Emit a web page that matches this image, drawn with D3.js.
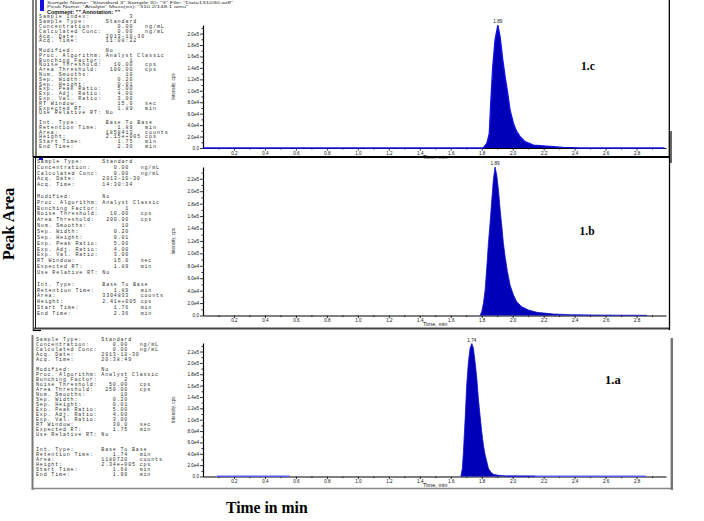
<!DOCTYPE html>
<html><head><meta charset="utf-8">
<script src="https://cdn.jsdelivr.net/npm/d3@7"></script>
<style>html,body{margin:0;padding:0;background:#fff;}svg{display:block}</style>
</head><body>
<svg id="chart" width="704" height="521"></svg>
<script>
// ---------------- DATA ----------------
const xTickLabels = [0.2,0.4,0.6,0.8,1.0,1.2,1.4,1.6,1.8,2.0,2.2,2.4,2.6,2.8];
const xMinorTicks = [0.1,0.3,0.5,0.7,0.9,1.1,1.3,1.5,1.7,1.9,2.1,2.3,2.5,2.7,2.9];
const yTicksC  = [0,2e4,4e4,6e4,8e4,1.0e5,1.2e5,1.4e5,1.6e5,1.8e5,2.0e5];
const yTicksAB = [0,2e4,4e4,6e4,8e4,1.0e5,1.2e5,1.4e5,1.6e5,1.8e5,2.0e5,2.2e5];

const panelNames = ["1.c","1.b","1.a"];
const peakLabels = ["1.89","1.89","1.74"];

// Panel 1.c chromatogram (time, min / intensity, cps)
const cTime = [0.00,1.809,1.833,1.849,1.859,1.871,1.886,1.904,1.919,1.936,1.951,1.968,1.983,2.005,2.026,2.048,2.080,2.134,2.261,2.326,2.436,2.98];
const cInt  = [0,0,8200,25700,84000,142000,189000,215000,194000,154000,125000,95500,66000,43000,28500,19700,11000,5200,2300,1000,0,0];
// Panel 1.b chromatogram
const bTime = [1.789,1.800,1.811,1.822,1.833,1.843,1.854,1.865,1.875,1.886,1.897,1.908,1.919,1.930,1.940,1.951,1.966,1.983,2.005,2.026,2.059,2.101,2.156,2.263,2.371,2.519,2.694,2.868];
const bInt  = [0,6100,19700,41000,79000,116000,149000,186000,218000,239000,226000,202000,170000,143000,116000,95000,71000,49000,33000,22000,14000,8900,5100,2400,1300,800,500,300];
// Panel 1.a chromatogram
const aTime = [1.665,1.675,1.682,1.693,1.703,1.714,1.725,1.736,1.746,1.757,1.768,1.778,1.789,1.800,1.811,1.822,1.833,1.843,1.859,1.875,1.908,1.962,2.145];
const aInt  = [0,14400,44000,102000,161000,202000,226000,234000,226000,202000,173000,138000,108000,79000,55000,38000,26000,14400,7400,3900,2100,1000,500];
// Panel 1.a baseline noise segments
const aNoiseStart = [0.09,1.96];
const aNoiseEnd   = [0.56,2.86];

// Left-hand result text
const headerC = [
  'Sample Name: "Standard 3"  Sample ID: "3"  File: "Data131030.wiff"',
  'Peak Name: "Analyte"  Mass(es): "310.2/148.1 amu"',
  'Comment: ""  Annotation: ""'
];
const infoC = [
  ["Sample Index:","3",""],["Sample Type:","Standard",""],["Concentration:","0.00","ng/mL"],
  ["Calculated Conc:","0.00","ng/mL"],["Acq. Date:","2013-10-30",""],["Acq. Time:","11:08:22",""],null,
  ["Modified:","No",""],["Proc. Algorithm:","Analyst Classic",""],["Bunching Factor:","1",""],
  ["Noise Threshold:","10.00","cps"],["Area Threshold:","100.00","cps"],["Num. Smooths:","10",""],
  ["Sep. Width:","0.20",""],["Sep. Height:","0.01",""],["Exp. Peak Ratio:","5.00",""],
  ["Exp. Adj. Ratio:","4.00",""],["Exp. Val. Ratio:","3.00",""],["RT Window:","15.0","sec"],
  ["Expected RT:","1.89","min"],["Use Relative RT:","No",""],null,
  ["Int. Type:","Base To Base",""],["Retention Time:","1.89","min"],["Area:","1858413","counts"],
  ["Height:","2.15e+005","cps"],["Start Time:","1.75","min"],["End Time:","2.30","min"]
];
const infoB = [
  ["Sample Type:","Standard",""],["Concentration:","0.00","ng/mL"],["Calculated Conc:","0.00","ng/mL"],
  ["Acq. Date:","2013-10-30",""],["Acq. Time:","14:30:34",""],null,
  ["Modified:","No",""],["Proc. Algorithm:","Analyst Classic",""],["Bunching Factor:","1",""],
  ["Noise Threshold:","10.00","cps"],["Area Threshold:","200.00","cps"],["Num. Smooths:","10",""],
  ["Sep. Width:","0.20",""],["Sep. Height:","0.01",""],["Exp. Peak Ratio:","5.00",""],
  ["Exp. Adj. Ratio:","4.00",""],["Exp. Val. Ratio:","3.00",""],["RT Window:","15.0","sec"],
  ["Expected RT:","1.89","min"],["Use Relative RT:","No",""],null,
  ["Int. Type:","Base To Base",""],["Retention Time:","1.89","min"],["Area:","3304833","counts"],
  ["Height:","2.41e+005","cps"],["Start Time:","1.76","min"],["End Time:","2.36","min"]
];
const infoA = [
  ["Sample Type:","Standard",""],["Concentration:","0.00","ng/mL"],["Calculated Conc:","0.00","ng/mL"],
  ["Acq. Date:","2013-10-30",""],["Acq. Time:","20:38:49",""],null,
  ["Modified:","No",""],["Proc. Algorithm:","Analyst Classic",""],["Bunching Factor:","2",""],
  ["Noise Threshold:","50.00","cps"],["Area Threshold:","250.00","cps"],["Num. Smooths:","10",""],
  ["Sep. Width:","0.20",""],["Sep. Height:","0.01",""],["Exp. Peak Ratio:","5.00",""],
  ["Exp. Adj. Ratio:","4.00",""],["Exp. Val. Ratio:","3.00",""],["RT Window:","30.0","sec"],
  ["Expected RT:","1.75","min"],["Use Relative RT:","No",""],null,null,
  ["Int. Type:","Base To Base",""],["Retention Time:","1.74","min"],["Area:","1180720","counts"],
  ["Height:","2.34e+005","cps"],["Start Time:","1.68","min"],["End Time:","1.90","min"]
];

// ---------------- LAYOUT ----------------
const svg = d3.select("#chart");
const x = d3.scaleLinear().domain([0, 2.99]).range([203, 666]);
const MONO = "'Liberation Mono', 'DejaVu Sans Mono', monospace";
const SANS = "'Liberation Sans', Arial, sans-serif";
const SERIF = "'Liberation Serif', 'Times New Roman', serif";

const panels = [
  {name:panelNames[0], peak:peakLabels[0], time:cTime, inten:cInt, yTicks:yTicksC,
   y0:148, y1:25, yMax:2.15e5, info:infoC, tx:39, ty:16.5, step:4.8, adv:3.93,
   lab:[581,70,11.5], baselineBlue:true},
  {name:panelNames[1], peak:peakLabels[1], time:bTime, inten:bInt, yTicks:yTicksAB,
   y0:315.5, y1:167, yMax:2.39e5, info:infoB, tx:37, ty:161, step:5.85, adv:3.84,
   lab:[579.5,235,11.5]},
  {name:panelNames[2], peak:peakLabels[2], time:aTime, inten:aInt, yTicks:yTicksAB,
   y0:476.5, y1:343, yMax:2.35e5, info:infoA, tx:36, ty:339, step:5.0, adv:3.84,
   lab:[605,384.3,12.5], noise:true}
];
const INFO_FS = 5.0;

function fmtY(v){ return v===0 ? "0.0" : d3.format(".1e")(v).replace("+",""); }
function infoLine(r){
  if(!r) return "";
  const [l,v,u] = r;
  const isNum = /^[0-9.e+\-]+$/.test(v) && !/-\d\d-/.test(v);
  let s = l.padEnd(17) + (isNum ? v.padStart(7) : v);
  if(u) s = s.padEnd(27) + u;
  return s;
}

panels.forEach(p => {
  const y = d3.scaleLinear().domain([0, p.yMax]).range([p.y0, p.y1]);
  const g = svg.append("g");

  // info text
  g.selectAll("text.info").data(p.info.map(infoLine)).join("text")
    .attr("class","info")
    .attr("x", p.tx).attr("y", (d,i) => p.ty + i*p.step + 1.8)
    .attr("xml:space","preserve").style("white-space","pre")
    .attr("font-family", MONO).attr("font-size", INFO_FS)
    .attr("letter-spacing", (p.adv - 0.6*INFO_FS).toFixed(2))
    .attr("fill","#333")
    .text(d => d);

  // y axis minor
  const minorY = d3.range(1e4, p.yMax, 2e4);
  g.append("g").attr("transform",`translate(${x(0)},0)`)
    .call(d3.axisLeft(y).tickValues(minorY).tickSize(1.6).tickFormat("").tickSizeOuter(0))
    .call(s => s.select(".domain").remove())
    .call(s => s.selectAll("line").attr("stroke","#000").attr("stroke-width",0.8));
  // y axis major
  const ya = g.append("g").attr("transform",`translate(${x(0)},0)`)
    .call(d3.axisLeft(y).tickValues(p.yTicks).tickSize(3).tickPadding(1).tickFormat(fmtY).tickSizeOuter(0));
  ya.select(".domain").attr("stroke","#000").attr("stroke-width",1.2);
  ya.selectAll("line").attr("stroke","#000").attr("stroke-width",0.8);
  ya.selectAll("text").attr("font-family",SANS).attr("font-size",4.6).attr("fill","#111");

  // x axis minor
  g.append("g").attr("transform",`translate(0,${p.y0})`)
    .call(d3.axisBottom(x).tickValues(xMinorTicks).tickSize(1.6).tickFormat("").tickSizeOuter(0))
    .call(s => s.select(".domain").remove())
    .call(s => s.selectAll("line").attr("stroke","#000").attr("stroke-width",0.8));
  const xa = g.append("g").attr("transform",`translate(0,${p.y0})`)
    .call(d3.axisBottom(x).tickValues(xTickLabels).tickSize(2.6).tickPadding(1).tickFormat(d3.format(".1f")).tickSizeOuter(0));
  xa.select(".domain").attr("stroke","#000").attr("stroke-width",1);
  xa.selectAll("line").attr("stroke","#000").attr("stroke-width",0.8);
  xa.selectAll("text").attr("font-family",SANS).attr("font-size",4.6).attr("fill","#111");

  // axis titles
  g.append("text").attr("x", x(1.5)).attr("y", p.y0 + 10.5).attr("text-anchor","middle")
    .attr("font-family",SANS).attr("font-size",5.6).attr("fill","#111").text("Time, min");
  g.append("text").attr("transform",`translate(174.5,${(p.y0+p.y1)/2}) rotate(-90)`)
    .attr("text-anchor","middle").attr("font-family",SANS).attr("font-size",4.6).attr("fill","#333")
    .text("Intensity, cps");

  // noise segments
  if(p.noise){
    g.selectAll("line.noise").data(aNoiseStart).join("line").attr("class","noise")
      .attr("x1", d => x(d)).attr("x2", (d,i) => x(aNoiseEnd[i]))
      .attr("y1", y(400)).attr("y2", y(400))
      .attr("stroke","#5b5bff").attr("stroke-width",1.6);
  }

  // chromatogram
  const pts = p.time.map((t,i) => [t, p.inten[i]]);
  g.append("path").datum(pts)
    .attr("d", d3.area().x(d => x(d[0])).y0(y(0)).y1(d => y(d[1])))
    .attr("fill","#0000b8");
  g.append("path").datum(pts)
    .attr("d", d3.line().x(d => x(d[0])).y(d => y(d[1])))
    .attr("fill","none").attr("stroke", p.baselineBlue ? "#1414ee" : "#1010d0")
    .attr("stroke-width", p.baselineBlue ? 1.3 : 0.8);

  // peak label
  const iMax = d3.maxIndex(p.inten);
  g.append("text").attr("x", x(p.time[iMax])).attr("y", y(p.inten[iMax]) - 1.6)
    .attr("text-anchor","middle").attr("font-family",SANS).attr("font-size",4.6).attr("fill","#111")
    .text(p.peak);

  // panel name
  g.append("text").attr("x", p.lab[0]).attr("y", p.lab[1])
    .attr("font-family",SERIF).attr("font-weight","bold").attr("font-size",p.lab[2]).attr("fill","#000")
    .text(p.name);
});

// header of top panel
svg.append("rect").attr("x",40).attr("y",0).attr("width",4).attr("height",11).attr("fill","#1010e0");
svg.append("rect").attr("x",39).attr("y",158).attr("width",4).attr("height",2).attr("fill","#1010e0");
svg.append("text").attr("x",47).attr("y",4.3).attr("font-family",SANS).attr("font-size",4.2)
  .attr("textLength",186).attr("lengthAdjust","spacingAndGlyphs").attr("fill","#333").text(headerC[0]);
svg.append("text").attr("x",47).attr("y",8.4).attr("font-family",SANS).attr("font-size",4.0)
  .attr("textLength",141).attr("lengthAdjust","spacingAndGlyphs").attr("fill","#333").text(headerC[1]);
svg.append("text").attr("x",47).attr("y",13.8).attr("font-family",SANS).attr("font-weight","bold").attr("font-size",5.2)
  .attr("textLength",73).attr("lengthAdjust","spacingAndGlyphs").attr("fill","#111").text(headerC[2]);

// frames
const fr = svg.append("g").attr("fill","none");
// panel c
fr.append("line").attr("x1",33).attr("x2",33).attr("y1",0).attr("y2",157).attr("stroke","#000").attr("stroke-width",1);
fr.append("line").attr("x1",36).attr("x2",36).attr("y1",0).attr("y2",157).attr("stroke","#000").attr("stroke-width",1);
fr.append("line").attr("x1",33).attr("x2",670).attr("y1",157).attr("y2",157).attr("stroke","#000").attr("stroke-width",1.8);
fr.append("line").attr("x1",669.3).attr("x2",669.3).attr("y1",0).attr("y2",157).attr("stroke","#000").attr("stroke-width",1.3);
fr.append("line").attr("x1",671).attr("x2",671).attr("y1",131).attr("y2",163).attr("stroke","#000").attr("stroke-width",1.2);
// panel b
fr.append("line").attr("x1",33.3).attr("x2",33.3).attr("y1",157).attr("y2",331).attr("stroke","#333").attr("stroke-width",1.2);
fr.append("line").attr("x1",35.5).attr("x2",35.5).attr("y1",157).attr("y2",329).attr("stroke","#000").attr("stroke-width",0.9);
fr.append("line").attr("x1",33).attr("x2",670).attr("y1",328.6).attr("y2",328.6).attr("stroke","#444").attr("stroke-width",2);
fr.append("line").attr("x1",669.5).attr("x2",669.5).attr("y1",157).attr("y2",330).attr("stroke","#000").attr("stroke-width",1.3);
fr.append("line").attr("x1",33).attr("x2",41).attr("y1",330.5).attr("y2",330.5).attr("stroke","#000").attr("stroke-width",1.2);
// panel a
fr.append("line").attr("x1",32.5).attr("x2",32.5).attr("y1",335).attr("y2",490).attr("stroke","#777").attr("stroke-width",2);
fr.append("line").attr("x1",32).attr("x2",673).attr("y1",488.5).attr("y2",488.5).attr("stroke","#888").attr("stroke-width",1.5);
fr.append("line").attr("x1",671.8).attr("x2",671.8).attr("y1",338).attr("y2",490).attr("stroke","#777").attr("stroke-width",2.5);

// outer titles
svg.append("text").attr("transform","translate(14,224) rotate(-90)").attr("text-anchor","middle")
  .attr("font-family",SERIF).attr("font-weight","bold").attr("font-size",16.5).attr("fill","#000").text("Peak Area");
svg.append("text").attr("x",226).attr("y",513)
  .attr("font-family",SERIF).attr("font-weight","bold").attr("font-size",15.7).attr("fill","#000").text("Time in min");
</script>
</body></html>
